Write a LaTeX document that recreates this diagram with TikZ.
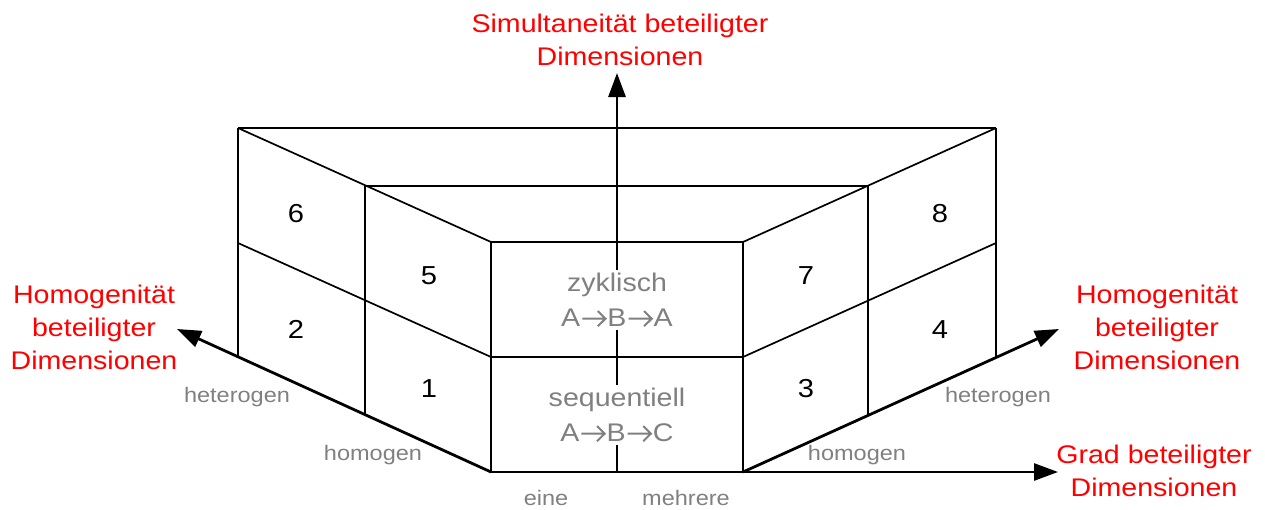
\documentclass[tikz,border=0pt]{standalone}
\usepackage{fontspec}
\setmainfont{Liberation Sans}[FakeStretch=1.12]
\usetikzlibrary{arrows.meta}
% open-headed arrow between the A/B/C steps
\newcommand{\chevto}{\hspace{1pt}\tikz[x=1pt,y=1pt,baseline=0pt]\draw[gray,line width=2pt] (0,7.6) -- (23,7.6) (15.5,15.2) -- (23.2,7.6) -- (15.5,0);\hspace{1pt}}

\begin{document}
\begin{tikzpicture}[x=1pt,y=-1pt]
\useasboundingbox (0,0) rectangle (1265,509);
\tikzstyle{face} = [draw=black,line width=1.7pt]
\tikzstyle{axis} = [draw=black,line width=2.8pt,-{Triangle[length=24pt,width=17pt]}]
\tikzstyle{dimlabel} = [text=red,align=center,inner sep=0pt,anchor=north,font=\fontsize{25.5}{33}\selectfont]
\tikzstyle{scalelabel} = [text=gray,inner sep=0pt,anchor=base,font=\fontsize{21}{25}\selectfont]
\tikzstyle{cellnum} = [inner sep=0pt,anchor=base,font=\fontsize{26}{30}\selectfont]
\tikzstyle{modelabel} = [text=gray,align=center,fill=white,inner sep=3pt,font=\fontsize{25.5}{35}\selectfont]
% axis origins and arrow ends
\coordinate (o) at (491,472);
\coordinate (o_mid) at (617,472);
\coordinate (o_r) at (743,472);
\coordinate (ax_sim) at (617,73);
\coordinate (ax_hom_l) at (177,329);
\coordinate (ax_hom_r) at (1059,329);
\coordinate (ax_grad) at (1058,472);
%%%%%%%%%%%%%%%%%%%%%%%%%%%%%
% front face (eine / mehrere)
%%%%%%%%%%%%%%%%%%%%%%%%%%%%%
\draw [face] (491,242) rectangle (743,472);
\draw [face] (491,357) -- (743,357);
% top edges
\draw [face] (238,128) -- (996,128);
\draw [face] (365,186) -- (868,186);
% left face (cells 6 5 2 1)
\draw [face] (238,128) -- (238,357);
\draw [face] (365,186) -- (365,415);
\draw [face] (238,128) -- (491,242);
\draw [face] (238,243) -- (491,357);
% right face (cells 7 8 3 4)
\draw [face] (996,128) -- (996,357);
\draw [face] (868,186) -- (868,415);
\draw [face] (996,128) -- (743,242);
\draw [face] (996,243) -- (743,357);
%%%%%%%%%%%%%%%%%%%%%%%%%%%%%
% axes
%%%%%%%%%%%%%%%%%%%%%%%%%%%%%
\draw [axis] (o_mid) -- (ax_sim);
\draw [axis] (o) -- (ax_hom_l);
\draw [axis] (o_r) -- (ax_hom_r);
\draw [axis] (o) -- (ax_grad);
% axis names
\node (sim) [dimlabel] at (620,13.6) {Simultaneität beteiligter\\Dimensionen};
\node (hom_l) [dimlabel] at (94,284.6) {Homogenität\\beteiligter\\Dimensionen};
\node (hom_r) [dimlabel] at (1157,284.6) {Homogenität\\beteiligter\\Dimensionen};
\node (grad) [dimlabel] at (1154,444.6) {Grad beteiligter\\Dimensionen};
% scale values
\node (het_l) [scalelabel] at (237,402) {heterogen};
\node (hom_l_1) [scalelabel] at (373,460) {homogen};
\node (eine) [scalelabel] at (546,505) {eine};
\node (mehr) [scalelabel] at (686,505) {mehrere};
\node (hom_r_1) [scalelabel] at (857,460) {homogen};
\node (het_r) [scalelabel] at (998,402) {heterogen};
% cells
\node (c6) [cellnum] at (296,222) {6};
\node (c5) [cellnum] at (429,284) {5};
\node (c2) [cellnum] at (296,338) {2};
\node (c1) [cellnum] at (429,397) {1};
\node (c7) [cellnum] at (806,284) {7};
\node (c8) [cellnum] at (940,222) {8};
\node (c3) [cellnum] at (806,397) {3};
\node (c4) [cellnum] at (940,338) {4};
% front cells, drawn over the vertical axis
\node (zyk) [modelabel] at (617,300) {zyklisch\\A\chevto B\chevto A};
\node (seq) [modelabel] at (617,415) {sequentiell\\A\chevto B\chevto C};
\end{tikzpicture}
\end{document}
